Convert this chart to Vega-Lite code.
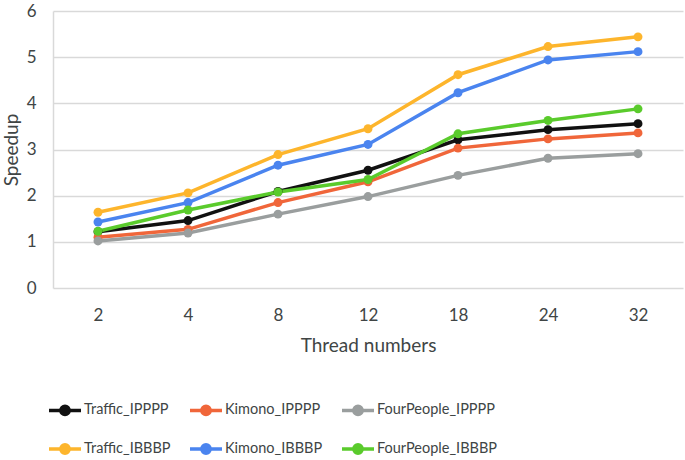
{
  "$schema": "https://vega.github.io/schema/vega-lite/v6.json",
  "autosize": "none",
  "width": 630,
  "height": 277,
  "padding": {"left": 53, "top": 11, "right": 2, "bottom": 172},
  "background": "white",
  "config": {
    "font": "Lato",
    "view": {"stroke": null}
  },
  "data": {
    "values": [
      {"thread": 2, "series": "Traffic_IPPPP", "speedup": 1.22},
      {"thread": 4, "series": "Traffic_IPPPP", "speedup": 1.46},
      {"thread": 8, "series": "Traffic_IPPPP", "speedup": 2.09},
      {"thread": 12, "series": "Traffic_IPPPP", "speedup": 2.55},
      {"thread": 18, "series": "Traffic_IPPPP", "speedup": 3.21},
      {"thread": 24, "series": "Traffic_IPPPP", "speedup": 3.43},
      {"thread": 32, "series": "Traffic_IPPPP", "speedup": 3.56},
      {"thread": 2, "series": "Kimono_IPPPP", "speedup": 1.1},
      {"thread": 4, "series": "Kimono_IPPPP", "speedup": 1.27},
      {"thread": 8, "series": "Kimono_IPPPP", "speedup": 1.85},
      {"thread": 12, "series": "Kimono_IPPPP", "speedup": 2.3},
      {"thread": 18, "series": "Kimono_IPPPP", "speedup": 3.03},
      {"thread": 24, "series": "Kimono_IPPPP", "speedup": 3.23},
      {"thread": 32, "series": "Kimono_IPPPP", "speedup": 3.36},
      {"thread": 2, "series": "FourPeople_IPPPP", "speedup": 1.02},
      {"thread": 4, "series": "FourPeople_IPPPP", "speedup": 1.19},
      {"thread": 8, "series": "FourPeople_IPPPP", "speedup": 1.6},
      {"thread": 12, "series": "FourPeople_IPPPP", "speedup": 1.98},
      {"thread": 18, "series": "FourPeople_IPPPP", "speedup": 2.44},
      {"thread": 24, "series": "FourPeople_IPPPP", "speedup": 2.81},
      {"thread": 32, "series": "FourPeople_IPPPP", "speedup": 2.91},
      {"thread": 2, "series": "Traffic_IBBBP", "speedup": 1.64},
      {"thread": 4, "series": "Traffic_IBBBP", "speedup": 2.06},
      {"thread": 8, "series": "Traffic_IBBBP", "speedup": 2.89},
      {"thread": 12, "series": "Traffic_IBBBP", "speedup": 3.45},
      {"thread": 18, "series": "Traffic_IBBBP", "speedup": 4.62},
      {"thread": 24, "series": "Traffic_IBBBP", "speedup": 5.23},
      {"thread": 32, "series": "Traffic_IBBBP", "speedup": 5.44},
      {"thread": 2, "series": "Kimono_IBBBP", "speedup": 1.43},
      {"thread": 4, "series": "Kimono_IBBBP", "speedup": 1.85},
      {"thread": 8, "series": "Kimono_IBBBP", "speedup": 2.66},
      {"thread": 12, "series": "Kimono_IBBBP", "speedup": 3.11},
      {"thread": 18, "series": "Kimono_IBBBP", "speedup": 4.23},
      {"thread": 24, "series": "Kimono_IBBBP", "speedup": 4.94},
      {"thread": 32, "series": "Kimono_IBBBP", "speedup": 5.12},
      {"thread": 2, "series": "FourPeople_IBBBP", "speedup": 1.23},
      {"thread": 4, "series": "FourPeople_IBBBP", "speedup": 1.69},
      {"thread": 8, "series": "FourPeople_IBBBP", "speedup": 2.08},
      {"thread": 12, "series": "FourPeople_IBBBP", "speedup": 2.35},
      {"thread": 18, "series": "FourPeople_IBBBP", "speedup": 3.34},
      {"thread": 24, "series": "FourPeople_IBBBP", "speedup": 3.63},
      {"thread": 32, "series": "FourPeople_IBBBP", "speedup": 3.88}
    ]
  },
  "mark": {"type": "line", "strokeWidth": 3.5, "point": {"filled": true, "size": 80, "opacity": 1}},
  "encoding": {
    "x": {
      "field": "thread",
      "type": "ordinal",
      "sort": "ascending",
      "scale": {"type": "point", "padding": 0.5},
      "axis": {
        "title": "Thread numbers",
        "labelAngle": 0,
        "ticks": false,
        "domain": false,
        "labelFontSize": 17,
        "labelColor": "#404545",
        "labelPadding": 19,
        "titleFontSize": 19,
        "titleFontWeight": "normal",
        "titleColor": "#404545",
        "titlePadding": 13
      }
    },
    "y": {
      "field": "speedup",
      "type": "quantitative",
      "scale": {"domain": [0, 6]},
      "axis": {
        "title": "Speedup",
        "values": [0, 1, 2, 3, 4, 5, 6],
        "ticks": false,
        "domain": true,
        "domainColor": "#D9D9D9",
        "domainWidth": 1.5,
        "grid": true,
        "gridColor": "#D9D9D9",
        "gridWidth": 1.5,
        "labelFontSize": 17,
        "labelColor": "#404545",
        "labelPadding": 17,
        "titleFontSize": 19,
        "titleFontWeight": "normal",
        "titleColor": "#404545",
        "titlePadding": 5
      }
    },
    "color": {
      "field": "series",
      "type": "nominal",
      "sort": null,
      "scale": {
        "domain": ["Traffic_IPPPP", "Kimono_IPPPP", "FourPeople_IPPPP", "Traffic_IBBBP", "Kimono_IBBBP", "FourPeople_IBBBP"],
        "range": ["#111111", "#F0663A", "#9A9E9E", "#FDB52C", "#4A84EF", "#5ACB2C"]
      },
      "legend": {
        "title": null,
        "orient": "none",
        "legendX": -6,
        "legendY": 381,
        "direction": "horizontal",
        "columns": 3,
        "gridAlign": "each",
        "columnPadding": 12,
        "rowPadding": 9,
        "symbolType": "M-1,0H1M0.26,0A0.26,0.26 0 1,1 -0.26,0A0.26,0.26 0 1,1 0.26,0Z",
        "symbolSize": 1024,
        "symbolStrokeWidth": 3.5,
        "labelFontSize": 14.5,
        "labelColor": "#404545",
        "labelOffset": 1,
        "encode": {
          "symbols": {
            "update": {
              "fill": {"scale": "color", "field": "value"},
              "fillOpacity": {"value": 1},
              "opacity": {"value": 1}
            }
          }
        }
      }
    }
  }
}
